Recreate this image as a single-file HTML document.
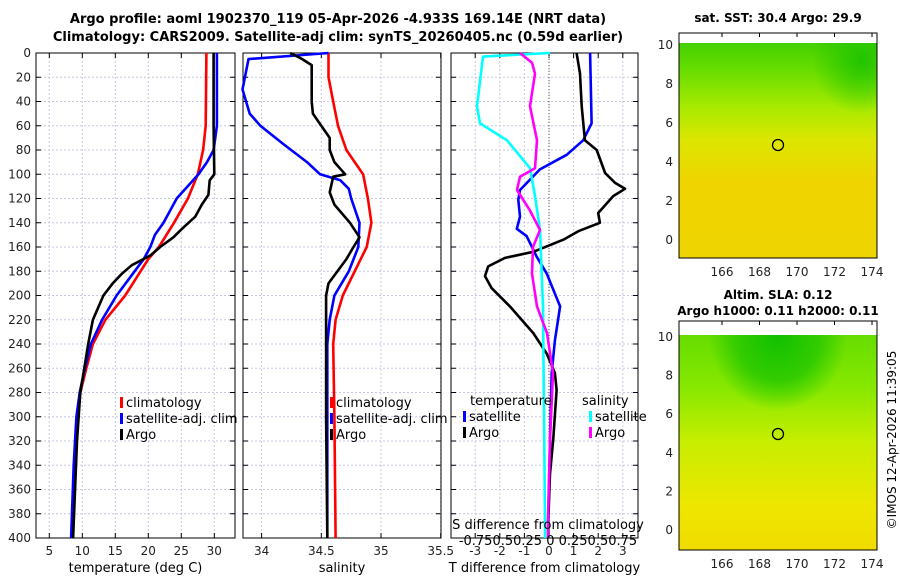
<!DOCTYPE html>
<html><head><meta charset="utf-8"><style>
body{margin:0;background:#fff}
svg{font-family:"DejaVu Sans","Liberation Sans",sans-serif;display:block}
</style></head><body>
<svg id="s" width="900" height="580" viewBox="0 0 900 580" xmlns="http://www.w3.org/2000/svg">
<defs>
<linearGradient id="g1" x1="0" y1="0" x2="0" y2="1">
<stop offset="0" stop-color="#44d000"/><stop offset="0.12" stop-color="#66dd00"/><stop offset="0.3" stop-color="#a8ea00"/><stop offset="0.45" stop-color="#dce600"/><stop offset="0.65" stop-color="#f0d400"/><stop offset="1" stop-color="#eed400"/></linearGradient>
<radialGradient id="g1b" cx="0.92" cy="0.08" r="0.25"><stop offset="0" stop-color="#22c400"/><stop offset="1" stop-color="#22c400" stop-opacity="0"/></radialGradient>
<linearGradient id="g2" x1="0" y1="0" x2="0" y2="1">
<stop offset="0" stop-color="#66dd00"/><stop offset="0.25" stop-color="#88e800"/><stop offset="0.5" stop-color="#c8ee00"/><stop offset="0.8" stop-color="#eee600"/><stop offset="1" stop-color="#f0dc00"/></linearGradient>
<radialGradient id="g2b" cx="0.5" cy="0.0" r="0.35"><stop offset="0" stop-color="#11c000"/><stop offset="0.6" stop-color="#33cc00"/><stop offset="1" stop-color="#33cc00" stop-opacity="0"/></radialGradient>
</defs>
<text x="338" y="23" font-size="13" font-weight="bold" text-anchor="middle">Argo profile: aoml 1902370_119 05-Apr-2026 -4.933S 169.14E (NRT data)</text>
<text x="338" y="41" font-size="13" font-weight="bold" text-anchor="middle">Climatology: CARS2009. Satellite-adj clim: synTS_20260405.nc (0.59d earlier)</text>
<g id="plots"></g>
<!-- maps -->
<g>
<text x="778" y="22" font-size="12" font-weight="bold" text-anchor="middle">sat. SST: 30.4 Argo: 29.9</text>
<rect x="679" y="43" width="198" height="215" fill="url(#g1)"/>
<rect x="679" y="43" width="198" height="215" fill="url(#g1b)"/>
<circle cx="778" cy="145" r="5.5" fill="none" stroke="#000" stroke-width="1.3"/>
<rect x="679" y="33" width="198" height="225" fill="none" stroke="#000" stroke-width="1"/>
</g>
<g>
<text x="778" y="299" font-size="12" font-weight="bold" text-anchor="middle">Altim. SLA: 0.12</text>
<text x="778" y="315" font-size="12" font-weight="bold" text-anchor="middle">Argo h1000: 0.11 h2000: 0.11</text>
<rect x="679" y="335" width="198" height="215" fill="url(#g2)"/>
<rect x="679" y="335" width="198" height="215" fill="url(#g2b)"/>
<circle cx="778" cy="434" r="5.5" fill="none" stroke="#000" stroke-width="1.3"/>
<rect x="679" y="321" width="198" height="229" fill="none" stroke="#000" stroke-width="1"/>
</g>
<text transform="translate(896,440) rotate(-90)" font-size="12" text-anchor="middle">©IMOS 12-Apr-2026 11:39:05</text>
</svg>
<script>
// ---- data ----
var depthTicks=[0,20,40,60,80,100,120,140,160,180,200,220,240,260,280,300,320,340,360,380,400];
var tempTicks=[5,10,15,20,25,30];
var salTicks=[34,34.5,35,35.5];
var tdiffTicks=[-3,-2,-1,0,1,2,3];
var mapXTicks=[166,168,170,172,174];
var mapYTicks=[0,2,4,6,8,10];
var climTD=[0,60,80,100,120,140,160,170,200,220,240,260,280,300,340,400];
var climT=[28.8,28.7,28.3,27.5,26.0,23.9,21.6,20.0,16.5,13.5,11.6,10.6,9.7,9.2,8.8,8.4];
var satTD=[0,60,80,90,100,120,140,150,160,170,200,220,240,260,280,300,340,400];
var satT=[30.4,30.4,29.9,28.9,27.6,24.3,22.3,21.0,20.3,19.3,15.2,13.0,11.3,10.4,9.6,9.1,8.7,8.3];
var argoTD=[0,60,100,105,117,125,135,145,152,160,167,175,182,190,200,220,240,260,280,320,400];
var argoT=[29.9,29.9,30.0,29.3,29.1,28.1,27.1,25.1,23.8,21.8,20.3,17.5,16.0,14.6,13.2,11.6,10.9,10.3,9.7,9.2,8.6];
var climSD=[0,20,40,60,80,100,120,140,160,180,200,220,240,300,400];
var climS=[34.56,34.56,34.6,34.64,34.71,34.85,34.89,34.92,34.88,34.78,34.68,34.62,34.6,34.61,34.62];
var satSD=[0,5,30,50,60,75,90,100,105,112,120,140,160,180,200,220,240,300,400];
var satS=[34.56,33.89,33.84,33.9,33.99,34.18,34.38,34.49,34.66,34.73,34.75,34.82,34.81,34.73,34.61,34.57,34.55,34.55,34.55];
var argoSD=[0,5,10,40,50,60,70,80,90,100,102,115,125,140,152,160,170,190,200,250,300,400];
var argoS=[34.24,34.34,34.42,34.42,34.43,34.5,34.57,34.57,34.61,34.7,34.6,34.57,34.61,34.74,34.82,34.77,34.71,34.56,34.54,34.54,34.54,34.55];
var dTsatD=[0,58,72,84,96,113,121,135,145,151,168,182,209,237,264,319,385,400];
var dTsat=[1.67,1.73,1.39,0.72,-0.37,-1.18,-1.25,-1.18,-1.31,-0.91,-0.5,-0.09,0.45,0.24,0.11,0.04,-0.03,-0.03];
var dTargoD=[0,17,44,72,80,99,107,112,118,132,140,147,154,164,169,176,184,194,209,231,248,264,278,319,347,385,400];
var dTargo=[1.12,1.26,1.33,1.46,1.94,2.28,2.68,3.09,2.61,2.0,2.07,1.19,0.58,-0.64,-1.79,-2.47,-2.6,-2.33,-1.59,-0.64,-0.09,0.24,0.31,0.17,0.04,-0.03,-0.03];
var dSsatD=[0,3,44,58,72,95,118,146,209,385,400];
var dSsat=[0.01,-0.66,-0.72,-0.69,-0.42,-0.19,-0.14,-0.09,-0.06,-0.04,-0.04];
var dSargoD=[0,8,17,44,72,95,102,113,130,146,160,182,209,231,264,319,385,400];
var dSargo=[-0.29,-0.17,-0.14,-0.19,-0.12,-0.14,-0.29,-0.32,-0.19,-0.09,-0.16,-0.17,-0.12,-0.02,0.04,0.01,-0.01,-0.01];
// ---- axes ----
var NS='http://www.w3.org/2000/svg';
var root=document.getElementById('plots');
function yD(d){return 53+d*1.2125;}
function xT(t){return 49.3+(t-5)*6.6;}
function xS(s){return 261.6+(s-34)*119.4;}
function xDT(v){return 549+v*24.6;}
function xDS(v){return 549+v*100;}
function el(tag,attrs,parent){var e=document.createElementNS(NS,tag);for(var k in attrs)e.setAttribute(k,attrs[k]);(parent||root).appendChild(e);return e;}
function txt(x,y,s,size,anchor,parent){var t=el('text',{x:x,y:y,'font-size':size,'text-anchor':anchor||'middle'},parent);t.textContent=s;return t;}
function panel(name,x0,x1,ticks,fx,tickLabels,xlabel){
  var g=el('g',{});
  
  
  depthTicks.forEach(function(d){el('line',{x1:x0,x2:x1,y1:yD(d),y2:yD(d),stroke:'#c4c8e4','stroke-width':1,'stroke-dasharray':'2,2'},g);
    el('line',{x1:x0,x2:x0+5,y1:yD(d),y2:yD(d),stroke:'#000'},g);el('line',{x1:x1-5,x2:x1,y1:yD(d),y2:yD(d),stroke:'#000'},g);});
  ticks.forEach(function(t,i){var x=fx(t);el('line',{x1:x,x2:x,y1:53,y2:538,stroke:'#c4c8e4','stroke-width':1,'stroke-dasharray':'2,2'},g);
    el('line',{x1:x,x2:x,y1:538,y2:533,stroke:'#000'},g);el('line',{x1:x,x2:x,y1:53,y2:58,stroke:'#000'},g);
    if(tickLabels){var l=txt(x,555,tickLabels[i],12,'middle',g);l.setAttribute('fill','#222');}});
  el('rect',{x:x0,y:53,width:x1-x0,height:485,fill:'none',stroke:'#000','stroke-width':1},g);
  var xl=txt((x0+x1)/2,572,xlabel,13,'middle',g);
  
  
  return g;
}
function line(g,name,ds,vs,fx,color){
  var p=ds.map(function(d,i){return fx(vs[i]).toFixed(1)+','+yD(d).toFixed(1);}).join(' ');
  var pl=el('polyline',{points:p,fill:'none',stroke:color,'stroke-width':2.6,'stroke-linejoin':'round'},g);
  
  
}
function legend(g,items,x,y){
  items.forEach(function(it,i){var yy=y+i*16;
    el('rect',{x:x,y:yy-10,width:3,height:11,fill:it[1]},g);
    var t=txt(x+6,yy,it[0],13,'start',g);
    
    });
}
// panel 1
var g1=panel('temperature-panel',36,235,tempTicks,xT,tempTicks.map(String),'temperature (deg C)');
depthTicks.forEach(function(d){var t=txt(31,yD(d)+4,String(d),12,'end',g1);t.setAttribute('fill','#222');});
line(g1,'temp-climatology-line',climTD,climT,xT,'#ff0000');
line(g1,'temp-satellite-line',satTD,satT,xT,'#0000ff');
line(g1,'temp-argo-line',argoTD,argoT,xT,'#000000');
legend(g1,[['climatology','#ff0000'],['satellite-adj. clim','#0000ff'],['Argo','#000']],120,407);
// panel 2
var g2=panel('salinity-panel',243,441,salTicks,xS,salTicks.map(String),'salinity');
line(g2,'sal-climatology-line',climSD,climS,xS,'#ff0000');
line(g2,'sal-satellite-line',satSD,satS,xS,'#0000ff');
line(g2,'sal-argo-line',argoSD,argoS,xS,'#000000');
legend(g2,[['climatology','#ff0000'],['satellite-adj. clim','#0000ff'],['Argo','#000']],330,407);
// panel 3
var g3=panel('difference-panel',451,638,tdiffTicks,xDT,tdiffTicks.map(String),'T difference from climatology');
el('line',{x1:549,x2:549,y1:53,y2:538,stroke:'#555','stroke-dasharray':'1,2'},g3);
line(g3,'tdiff-satellite-line',dTsatD,dTsat,xDT,'#0000ff');
line(g3,'tdiff-argo-line',dTargoD,dTargo,xDT,'#000000');
line(g3,'sdiff-satellite-line',dSsatD,dSsat,xDS,'#00ffff');
line(g3,'sdiff-argo-line',dSargoD,dSargo,xDS,'#ff00ff');
txt(470,405,'temperature',13,'start',g3);
txt(582,405,'salinity',13,'start',g3);
legend(g3,[['satellite','#0000ff'],['Argo','#000']],463,421);
legend(g3,[['satellite','#00ffff'],['Argo','#ff00ff']],589,421);
txt(548,529,'S difference from climatology',13,'middle',g3);
txt(548,545,'-0.750.50.25 0  0.250.50.75',13,'middle',g3);
// map axes
function mapAxes(x0,yTop,yBot,y0,y10){
  var g=el('g',{});
  
  
  mapXTicks.forEach(function(v){var x=722+(v-166)*18.75;el('line',{x1:x,x2:x,y1:yBot,y2:yBot-4,stroke:'#000'},g);el('line',{x1:x,x2:x,y1:yTop,y2:yTop+4,stroke:'#000'},g);txt(x,yBot+18,String(v),12,'middle',g).setAttribute('fill','#222');});
  mapYTicks.forEach(function(v){var y=y0+(y10-y0)*v/10;el('line',{x1:679,x2:683,y1:y,y2:y,stroke:'#000'},g);el('line',{x1:873,x2:877,y1:y,y2:y,stroke:'#000'},g);txt(673,y+4,String(v),12,'end',g).setAttribute('fill','#222');});
}
mapAxes(679,33,258,240,45);
mapAxes(679,321,550,530,337);
</script>
</body></html>
